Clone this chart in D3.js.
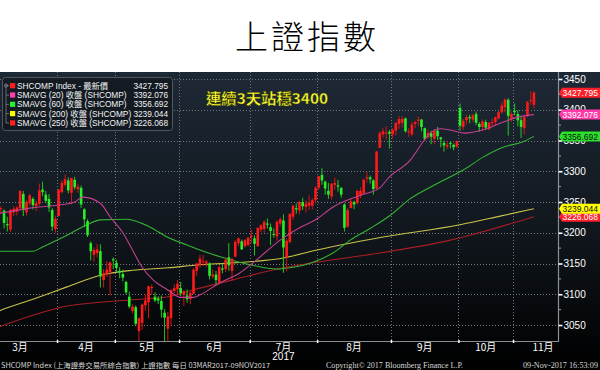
<!DOCTYPE html>
<html><head><meta charset="utf-8">
<script src="https://cdn.jsdelivr.net/npm/d3@7/dist/d3.min.js"></script>
<style>
html,body{margin:0;padding:0;background:#fff;}
svg{display:block;}
</style></head><body>
<svg id="c" width="600" height="370"></svg>
<script>
// ---------------- data ----------------
const titleText = "上證指數";
const annotationText = "連續3天站穩3400";
const monthLabels = ["3月","4月","5月","6月","7月","8月","9月","10月","11月"];
const monthStarts = [-2, 21, 39, 59, 81, 102, 125, 146, 163, 185];
const yearLabel = "2017";
const yearMonth = 4;
const yTicks = [3050, 3100, 3150, 3200, 3250, 3300, 3350, 3400, 3450];

// daily candles 03MAR2017 - 09NOV2017 (trading days)
const opens = [3227,3215,3230,3238,3236,3214,3205,3233,3234,3240,3263,3233,3248,3255,3243,3247,3270,3262,3255,3237,3206,
 3227,3266,3278,3285,3265,3286,3271,3273,3238,3219,3183,3164,3167,3170,3123,3132,3136,3157,
 3151,3138,3133,3120,3096,3073,3079,3040,3053,3082,3087,3110,3096,3093,3089,3070,3044,3061,3105,3108,
 3110,3099,3098,3092,3101,3138,3148,3153,3150,3150,3129,3132,3119,3142,3141,3160,3138,3161,3183,3186,3178,3180,
 3193,3191,3178,3205,3206,3215,3209,3198,3194,3215,3220,3160,3185,3226,3240,3236,3250,3242,3244,3244,3253,
 3273,3294,3283,3268,3259,3278,3277,3273,3246,3210,3240,3250,3248,3260,3264,3288,3290,3285,3272,3338,3360,3362,3364,
 3360,3366,3377,3379,3386,3364,3360,3377,3382,3384,3370,3355,3362,3353,3366,3355,3346,3340,3346,3343,3340,
 3403,3372,3383,3388,3384,3393,3377,3372,3380,3369,3378,3380,3386,3396,3404,3416,3385,
 3398,3393,3383,3370,3390,3415,3408];
const highs = [3230,3234,3245,3243,3238,3226,3239,3243,3243,3269,3268,3253,3263,3258,3252,3280,3283,3268,3263,3240,3228,
 3271,3285,3295,3290,3289,3291,3280,3277,3240,3222,3186,3176,3182,3181,3141,3154,3153,3160,
 3156,3144,3140,3122,3104,3084,3082,3062,3085,3099,3114,3116,3103,3097,3098,3076,3071,3108,3116,3123,
 3120,3107,3108,3104,3142,3151,3164,3164,3156,3152,3140,3138,3147,3150,3160,3183,3158,3188,3192,3189,3190,3193,
 3205,3196,3208,3214,3220,3223,3215,3207,3220,3225,3230,3191,3231,3245,3248,3252,3257,3253,3261,3256,3276,
 3292,3305,3285,3281,3280,3290,3286,3274,3248,3240,3256,3252,3270,3274,3288,3299,3293,3287,3333,3365,3370,3373,3367,
 3370,3379,3390,3390,3387,3370,3380,3382,3389,3385,3371,3368,3366,3368,3372,3356,3350,3349,3348,3345,3350,
 3410,3385,3391,3392,3394,3397,3380,3384,3384,3380,3386,3389,3398,3412,3418,3419,3397,
 3410,3399,3389,3391,3414,3430,3430];
const lows = [3206,3212,3226,3230,3207,3202,3201,3227,3228,3238,3227,3228,3244,3238,3235,3244,3260,3248,3234,3203,3200,
 3227,3264,3275,3264,3246,3270,3265,3240,3209,3193,3155,3153,3160,3111,3111,3128,3098,3141,
 3136,3126,3121,3100,3077,3069,3048,3016,3042,3073,3061,3099,3087,3084,3062,3022,3022,3049,3102,3099,
 3097,3081,3086,3084,3100,3130,3143,3146,3144,3124,3125,3116,3116,3134,3136,3138,3123,3161,3178,3172,3176,3178,
 3183,3163,3178,3201,3200,3207,3180,3192,3187,3210,3135,3137,3183,3221,3231,3230,3237,3233,3237,3238,3248,
 3270,3278,3262,3255,3254,3270,3267,3257,3202,3208,3240,3238,3246,3256,3262,3282,3280,3262,3270,3338,3355,3352,3337,
 3353,3358,3369,3371,3363,3356,3357,3370,3374,3365,3350,3352,3344,3344,3351,3339,3332,3336,3337,3334,3338,
 3366,3367,3376,3378,3380,3375,3364,3366,3367,3366,3372,3374,3384,3394,3396,3358,3380,
 3391,3373,3354,3360,3388,3408,3402];
const closes = [3218,3233,3242,3240,3216,3212,3237,3239,3241,3268,3237,3250,3261,3245,3248,3269,3266,3252,3241,3210,3223,
 3270,3281,3287,3269,3289,3274,3275,3246,3222,3196,3170,3172,3173,3129,3134,3140,3152,3155,
 3143,3135,3127,3103,3080,3080,3052,3061,3083,3090,3113,3112,3090,3090,3075,3062,3064,3107,3110,3117,
 3102,3105,3092,3102,3140,3150,3158,3154,3153,3130,3132,3123,3144,3140,3156,3147,3158,3185,3191,3173,3188,3192,
 3195,3182,3208,3212,3218,3213,3203,3197,3218,3222,3176,3187,3231,3244,3238,3250,3243,3247,3249,3253,3273,
 3292,3285,3272,3262,3280,3281,3275,3262,3208,3237,3251,3246,3268,3268,3286,3290,3287,3271,3332,3362,3365,3363,3361,
 3367,3379,3385,3385,3365,3365,3376,3380,3384,3372,3353,3362,3356,3366,3357,3352,3342,3343,3345,3339,3349,
 3374,3382,3388,3386,3391,3379,3372,3381,3371,3379,3380,3388,3396,3407,3417,3390,3393,
 3396,3383,3372,3388,3413,3416,3427.795];

// moving averages: [trading-day index, value]
const ma20 = [[0,3230],[3,3232],[12,3240],[21,3245],[26,3250],[28.6,3258],[34,3248],[37,3226],[41,3200],[44,3172],[47,3144],[50.5,3123],[55,3107],[59,3095],[63,3095],[65,3099],[71,3118],[77.5,3135],[81.5,3151],[90,3188],[96,3208],[101,3221],[106.5,3242],[115,3261],[121,3273],[124,3291],[130.5,3318],[134.5,3348],[136.7,3362],[140,3369],[143,3367],[147.5,3362],[153,3367],[158.5,3378],[164,3388],[169,3392.076]];
const ma60 = [[0,3170],[13,3170],[16,3177],[23.6,3196],[29.8,3213],[34,3221],[42.3,3222],[49.5,3209],[54.8,3193],[61,3180],[65,3172],[71.3,3161],[80.6,3148],[89,3141],[93,3143],[100.2,3152],[106.4,3167],[111.8,3188],[118,3207],[124.2,3228],[130.4,3255],[136.7,3274],[143,3291],[147,3302],[153.2,3323],[159.4,3339],[165.6,3348],[169,3356.692]];
const ma200 = [[0,3068],[3,3074],[13,3092],[23.6,3112],[34,3131],[44,3139],[55,3143],[65,3148],[75,3151],[91,3159],[101.5,3172],[111.7,3183],[122,3193],[146,3213],[158.5,3227],[169,3239.044]];
const ma250 = [[0,3042],[3,3048],[13,3066],[23.6,3081],[34,3087],[44,3091],[55,3096],[65,3110],[75,3123],[91,3143],[106.4,3156],[121,3167],[143,3188],[169,3226.068]];

const legendNames = ["SHCOMP Index - 最新價","SMAVG (20) 收盤 (SHCOMP)","SMAVG (60) 收盤 (SHCOMP)","SMAVG (200) 收盤 (SHCOMP)","SMAVG (250) 收盤 (SHCOMP)"];
const legendValues = ["3427.795","3392.076","3356.692","3239.044","3226.068"];
const legendColors = ["#ff1f1f","#ff3fb0","#2cf02c","#ffff00","#ff1f1f"];
const lineColors = ["#c2418f","#35b435","#c9c24a","#a81e24"];
const tagFills = ["#ff1f2a","#ff3aa8","#2be02b","#ffff00","#ff1f2a"];
const tagText = ["#ffffff","#ffffff","#101010","#101010","#ffffff"];
const footerLeft = "SHCOMP Index (上海證券交易所綜合指數) 上證指數   每日 03MAR2017-09NOV2017";
const footerMid = "Copyright© 2017 Bloomberg Finance L.P.";
const footerRight = "09-Nov-2017 16:53:09";

(function draw() {
const svg = d3.select("#c");
const pTop = 72, pBottom = 341, pLeft = 0, axisX = 558;
const x = d3.scaleLinear().domain([0, 169]).range([-8.8, 533.9]);
const y = d3.scaleLinear().domain([3050, 3450]).range([325, 79]);
const sans = "'Liberation Sans', Arial, 'Noto Sans CJK TC', sans-serif";
const cjk = "'Noto Sans CJK TC', 'Noto Sans CJK SC', sans-serif";

// title
svg.append("text").attr("x", 307).attr("y", 49).attr("text-anchor", "middle")
  .attr("font-family", cjk).attr("font-weight", 300).attr("font-size", 33)
  .attr("letter-spacing", 3).attr("fill", "#000").text(titleText);

// background
const defs = svg.append("defs");
const grad = defs.append("linearGradient").attr("id", "bg").attr("x1", 0).attr("y1", 0).attr("x2", 0).attr("y2", 1);
grad.append("stop").attr("offset", "0%").attr("stop-color", "#1e2936");
grad.append("stop").attr("offset", "55%").attr("stop-color", "#10161c");
grad.append("stop").attr("offset", "100%").attr("stop-color", "#000000");
svg.append("rect").attr("x", 0).attr("y", pTop).attr("width", 600).attr("height", 370 - pTop).attr("fill", "url(#bg)");
defs.append("clipPath").attr("id", "plot").append("rect")
  .attr("x", pLeft).attr("y", pTop).attr("width", axisX - pLeft).attr("height", pBottom - pTop);

// grid
const g = svg.append("g");
g.selectAll("line.h").data(yTicks).join("line")
  .attr("x1", pLeft).attr("x2", axisX).attr("y1", d => Math.round(y(d)) + 0.5).attr("y2", d => Math.round(y(d)) + 0.5)
  .attr("stroke", "#707780").attr("stroke-width", 1).attr("stroke-dasharray", "1,2");
const bounds = monthStarts.slice(1, -1).map(s => x(s - 0.5));
g.selectAll("line.v").data(bounds).join("line")
  .attr("x1", d => Math.round(d) + 0.5).attr("x2", d => Math.round(d) + 0.5).attr("y1", pTop).attr("y2", pBottom)
  .attr("stroke", "#707780").attr("stroke-width", 1).attr("stroke-dasharray", "1,2");

// plot content
const p = svg.append("g").attr("clip-path", "url(#plot)");
const lineGen = d3.line().x(d => x(d[0])).y(d => y(d[1])).curve(d3.curveMonotoneX);
[[ma250, lineColors[3]], [ma200, lineColors[2]], [ma60, lineColors[1]]].forEach(([arr, col]) => {
  p.append("path").attr("d", lineGen(arr)).attr("fill", "none").attr("stroke", col).attr("stroke-width", 1.1);
});
const idx = d3.range(closes.length);
const up = i => closes[i] >= opens[i];
p.selectAll("line.w").data(idx).join("line")
  .attr("x1", i => x(i)).attr("x2", i => x(i))
  .attr("y1", i => y(highs[i])).attr("y2", i => y(lows[i]))
  .attr("stroke", i => up(i) ? "#d41414" : "#22c822").attr("stroke-width", 1);
p.selectAll("rect.b").data(idx).join("rect")
  .attr("x", i => x(i) - 1.3).attr("width", 2.6)
  .attr("y", i => y(Math.max(opens[i], closes[i])))
  .attr("height", i => Math.max(1, Math.abs(y(opens[i]) - y(closes[i]))))
  .attr("fill", i => up(i) ? "#ff1a1a" : "#27f027");
p.append("path").attr("d", lineGen(ma20)).attr("fill", "none").attr("stroke", lineColors[0]).attr("stroke-width", 1.1);

// axes
svg.append("line").attr("x1", pLeft).attr("x2", axisX).attr("y1", pBottom + 0.5).attr("y2", pBottom + 0.5)
  .attr("stroke", "#8a8f96").attr("stroke-width", 1.2);
svg.append("line").attr("x1", axisX + 0.5).attr("x2", axisX + 0.5).attr("y1", pTop).attr("y2", pBottom + 1)
  .attr("stroke", "#8a8f96").attr("stroke-width", 1.2);

const yAxis = d3.axisRight(y).tickValues(yTicks).tickSize(4).tickPadding(1).tickFormat(d3.format("d"));
const ya = svg.append("g").attr("transform", `translate(${axisX + 0.5},0)`).call(yAxis);
ya.select(".domain").remove();
ya.selectAll("line").attr("stroke", "#fff").attr("stroke-width", 1.6);
ya.selectAll("text").attr("fill", "#fff").attr("font-family", sans).attr("font-size", 10);
svg.selectAll("line.minor").data(yTicks.slice(0, -1).map(v => v + 25)).join("line")
  .attr("x1", axisX + 1).attr("x2", axisX + 3).attr("y1", d => y(d)).attr("y2", d => y(d))
  .attr("stroke", "#9aa0a6");

const xAxis = d3.axisBottom(d3.scaleIdentity()).tickValues(bounds).tickSize(3).tickFormat("");
const xa = svg.append("g").attr("transform", `translate(0,${pBottom - 1})`).call(xAxis);
xa.select(".domain").remove();
xa.selectAll("line").attr("stroke", "#fff").attr("stroke-width", 1.5);

const mCenters = monthLabels.map((m, k) => Math.min(axisX - 15, (x(monthStarts[k] - 0.5) + x(monthStarts[k + 1] - 0.5)) / 2));
svg.selectAll("text.m").data(monthLabels).join("text")
  .attr("x", (d, k) => mCenters[k]).attr("y", 351).attr("text-anchor", "middle")
  .attr("font-family", cjk).attr("font-size", 10).attr("fill", "#fff").text(d => d);
svg.append("text").attr("x", mCenters[yearMonth]).attr("y", 360).attr("text-anchor", "middle")
  .attr("font-family", sans).attr("font-size", 10).attr("fill", "#fff").text(yearLabel);

// footer
svg.append("text").attr("x", 1).attr("y", 367.5).attr("font-family", cjk).attr("font-size", 7)
  .attr("fill", "#d8d8d8").attr("textLength", 269).attr("lengthAdjust", "spacingAndGlyphs").text(footerLeft);
svg.append("text").attr("x", 326).attr("y", 367.5).attr("font-family", "'Liberation Serif', serif").attr("font-size", 7.5)
  .attr("fill", "#d8d8d8").attr("textLength", 137).attr("lengthAdjust", "spacingAndGlyphs").text(footerMid);
svg.append("text").attr("x", 523).attr("y", 367.5).attr("font-family", "'Liberation Serif', serif").attr("font-size", 7.5)
  .attr("fill", "#d8d8d8").attr("textLength", 75).attr("lengthAdjust", "spacingAndGlyphs").text(footerRight);

// legend
const lg = svg.append("g");
lg.append("rect").attr("x", 2.5).attr("y", 77.5).attr("width", 170).attr("height", 53).attr("rx", 3)
  .attr("fill", "#121920").attr("fill-opacity", 0.92).attr("stroke", "#4e5862");
lg.append("line").attr("x1", 6).attr("x2", 6).attr("y1", 85).attr("y2", 123).attr("stroke", "#7a828a").attr("stroke-width", 0.8);
lg.append("circle").attr("cx", 6).attr("cy", 85.5).attr("r", 1.6).attr("fill", "none").attr("stroke", "#8a929a").attr("stroke-width", 0.8);
legendNames.forEach((n, k) => {
  const cy = 85.7 + k * 9.3;
  lg.append("line").attr("x1", 6).attr("x2", 9).attr("y1", cy).attr("y2", cy).attr("stroke", "#7a828a").attr("stroke-width", 0.8);
  lg.append("rect").attr("x", 10).attr("y", cy - 2.6).attr("width", 5.2).attr("height", 5.2).attr("fill", legendColors[k]);
  lg.append("text").attr("x", 17).attr("y", cy + 3).attr("font-family", sans).attr("font-size", 8.3)
    .attr("fill", "#f2f2f2").text(n);
  lg.append("text").attr("x", 168).attr("y", cy + 3).attr("text-anchor", "end").attr("font-family", sans).attr("font-size", 8.3)
    .attr("fill", "#f2f2f2").text(legendValues[k]);
});

// annotation
svg.append("text").attr("x", 206).attr("y", 104).attr("font-family", cjk).attr("font-weight", 700)
  .attr("font-size", 14.5).attr("fill", "#ffff33").attr("stroke", "#3a3a00").attr("stroke-width", 0.4)
  .attr("textLength", 122).attr("lengthAdjust", "spacingAndGlyphs").text(annotationText);

// value tags
const tagVals = legendValues.map(Number);
[4, 3, 2, 1, 0].forEach(k => {
  const cy = y(tagVals[k]);
  const h = 10, x0 = axisX + 1, x1 = 600;
  const path = d3.path();
  path.moveTo(x0, cy);
  path.lineTo(x0 + 3, cy - h / 2);
  path.lineTo(x1, cy - h / 2);
  path.lineTo(x1, cy + h / 2);
  path.lineTo(x0 + 3, cy + h / 2);
  path.closePath();
  svg.append("path").attr("d", path.toString()).attr("fill", tagFills[k]);
  svg.append("text").attr("x", x0 + 3.5).attr("y", cy + 3.4).attr("font-family", sans).attr("font-size", 9.3)
    .attr("fill", tagText[k]).attr("textLength", 35.5).attr("lengthAdjust", "spacingAndGlyphs").text(legendValues[k]);
});
})();
</script>
</body></html>
